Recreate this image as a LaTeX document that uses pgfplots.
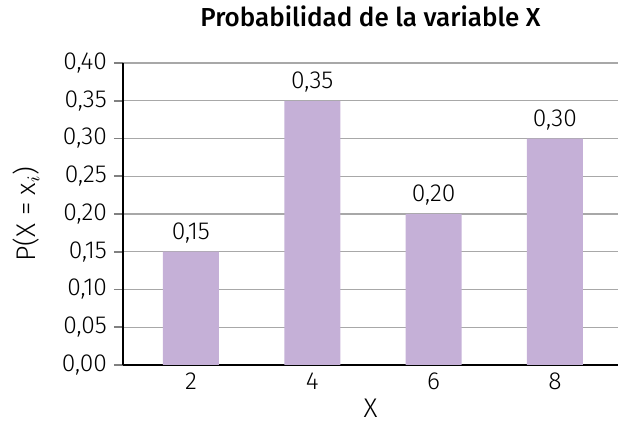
\documentclass[border=0pt]{standalone}
\usepackage{pgfplots}
\pgfplotsset{compat=1.18}
\usepackage{fontspec}
\setmainfont{Fira Sans Light}[BoldFont={Fira Sans Medium}]
\definecolor{barpurple}{HTML}{C5B0D7}
\definecolor{gridgray}{HTML}{A8A8A8}

\begin{document}
\begin{tikzpicture}
% frame of the whole picture: 618 x 423 px at 2 px per pt
\useasboundingbox (-61.5pt,-29pt) rectangle (247.5pt,182.5pt);
\begin{axis}[
    scale only axis,
    width=247.5pt, height=151pt,
    xmin=0.88, xmax=9.04,
    ymin=0, ymax=0.40,
    axis x line=bottom, axis y line=left,
    axis line style={-, line width=0.9pt},
    xtick={2,4,6,8},
    xtick style={draw=none},
    ytick={0,0.05,...,0.41},
    ytick style={line width=0.9pt},
    tick align=outside,
    major tick length=4.5pt,
    ymajorgrids=true,
    grid style={gridgray, line width=0.6pt},
    /pgf/number format/assume math mode=true,
    ticklabel style={font=\fontsize{12.3}{14}\selectfont},
    xticklabel style={yshift=4pt},
    yticklabel style={/pgf/number format/.cd, fixed, fixed zerofill, precision=2, use comma},
    title={\textbf{Probabilidad de la variable X}},
    title style={font=\fontsize{13}{15}\selectfont, at={(axis description cs:0.5,1)}, anchor=center, yshift=17.5pt},
    xlabel={X},
    ylabel={P(X = x$_i$)},
    label style={font=\fontsize{13.5}{15}\selectfont},
    xlabel style={at={(axis description cs:0.5,0)}, anchor=center, inner sep=0pt, yshift=-21.5pt},
    ylabel style={at={(axis description cs:0,0.5)}, anchor=center, yshift=48.5pt},
    ybar, bar width=28pt,
    nodes near coords,
    nodes near coords style={font=\fontsize{12.3}{14}\selectfont, yshift=0.7pt, /pgf/number format/.cd, fixed, fixed zerofill, precision=2, use comma, assume math mode=true},
]
\addplot[fill=barpurple, draw=none] coordinates {(2,0.15) (4,0.35) (6,0.20) (8,0.30)};
\end{axis}
\end{tikzpicture}
\end{document}
